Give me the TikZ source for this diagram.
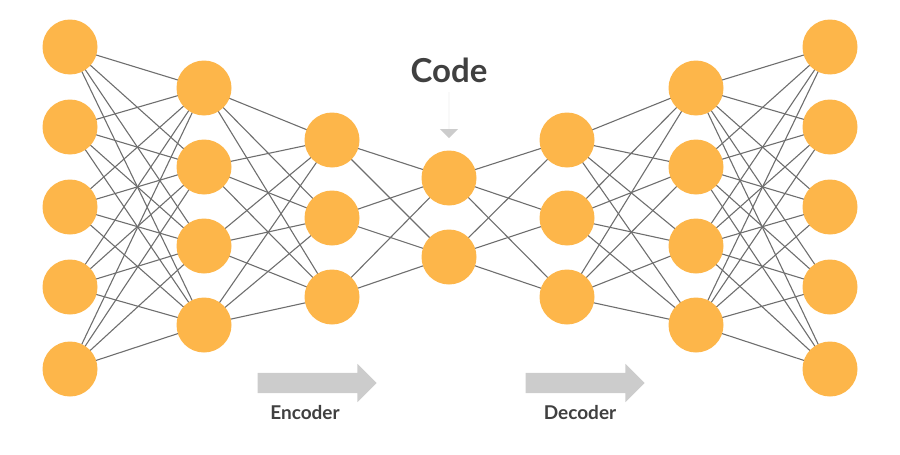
\documentclass[tikz,border=0pt]{standalone}
\usepackage{fontspec}
\setmainfont{Lato}
\usetikzlibrary{backgrounds, arrows.meta, shapes.arrows}
\definecolor{neuron}{HTML}{FDB64A}
\definecolor{wire}{HTML}{6E6E6E}
\definecolor{pointer}{HTML}{CCCCCC}
\tikzset{
  unit/.style={circle, fill=neuron, minimum size=55pt, inner sep=0pt},
  link/.style={wire, line width=1.1pt},
  bigarrow/.style={single arrow, fill=pointer, inner xsep=0pt, inner ysep=10pt,
    minimum height=119pt, single arrow head extend=9pt, single arrow head indent=0pt},
  caption/.style={font=\bfseries\fontsize{19}{22}\selectfont, text=black!75}
}
\begin{document}
\begin{tikzpicture}[x=1pt,y=-1pt]
  \useasboundingbox (0,0) rectangle (900,455);
  % Layers
  \foreach \y [count=\i] in {47,127,207,287,369} {
    \node[unit] (a\i) at (70,\y) {};
    \node[unit] (g\i) at (830,\y) {};
  }
  \foreach \y [count=\i] in {88,167,246,325} {
    \node[unit] (b\i) at (204,\y) {};
    \node[unit] (f\i) at (696,\y) {};
  }
  \foreach \y [count=\i] in {140,218,297} {
    \node[unit] (c\i) at (332,\y) {};
    \node[unit] (e\i) at (567,\y) {};
  }
  \foreach \y [count=\i] in {178,257} \node[unit] (d\i) at (449,\y) {};
  % Connections
  \begin{scope}[on background layer]
    \foreach \i in {1,...,5} \foreach \j in {1,...,4} {
      \draw[link] (a\i.center) -- (b\j.center);
      \draw[link] (g\i.center) -- (f\j.center);
    }
    \foreach \i in {1,...,4} \foreach \j in {1,...,3} {
      \draw[link] (b\i.center) -- (c\j.center);
      \draw[link] (f\i.center) -- (e\j.center);
    }
    \foreach \i in {1,...,3} \foreach \j in {1,2} {
      \draw[link] (c\i.center) -- (d\j.center);
      \draw[link] (e\i.center) -- (d\j.center);
    }
  \end{scope}
  % Labels
  \node[font=\bfseries\fontsize{33}{38}\selectfont, text=black!75] (code) at (449,70) {Code};
  \node[bigarrow, minimum height=46pt, inner ysep=9pt, shape border rotate=270,
    anchor=north] (codearrow) at (449,92) {};
  \node[bigarrow] (encarrow) at (312,383) {};
  \node[bigarrow] (decarrow) at (580,383) {};
  \node[caption] (enc) at (305,413) {Encoder};
  \node[caption] (dec) at (580,413) {Decoder};
\end{tikzpicture}
\end{document}
